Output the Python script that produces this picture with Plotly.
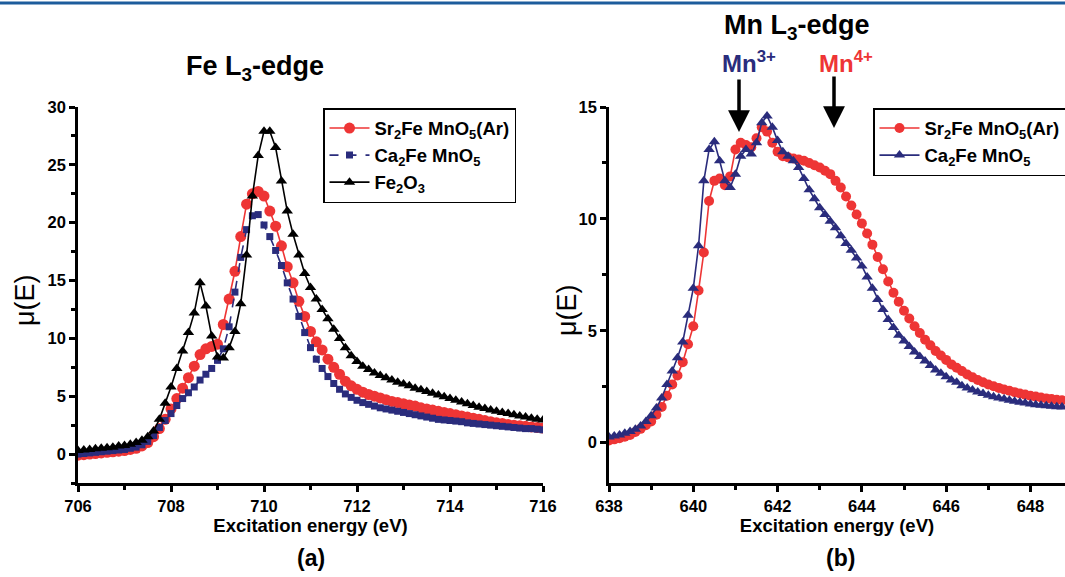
import numpy as np
import plotly.graph_objects as go
from plotly.subplots import make_subplots

# ---------------- Fe L3-edge (panel a) ----------------
fe_energy = np.round(np.arange(706.0, 716.0001, 0.125), 3)

fe_sr2femno5 = [
    -0.1, -0.05, 0.0, 0.05, 0.1, 0.15, 0.2, 0.25, 0.3, 0.4, 0.5, 0.7, 1.0, 1.5, 2.2, 3.0,
    3.9, 4.8, 5.7, 6.6, 7.6, 8.6, 9.1, 9.3, 9.5, 11.2, 13.4, 15.8, 18.8, 21.6, 22.5, 22.7,
    22.3, 21.0, 19.7, 18.0, 16.2, 14.8, 13.2, 11.9, 10.6, 9.7, 9.0, 8.2, 7.5, 6.9, 6.3, 5.9,
    5.6, 5.35, 5.15, 5.0, 4.85, 4.7, 4.55, 4.45, 4.35, 4.25, 4.15, 4.0, 3.9, 3.8, 3.7, 3.6,
    3.5, 3.4, 3.3, 3.2, 3.1, 3.0, 2.9, 2.8, 2.7, 2.65, 2.55, 2.5, 2.45, 2.4, 2.35, 2.3, 2.25,
]

fe_ca2femno5 = [
    0.0, 0.05, 0.1, 0.15, 0.2, 0.25, 0.3, 0.35, 0.4, 0.5, 0.6, 0.8, 1.1, 1.6, 2.3, 2.9,
    3.5, 4.2, 4.8, 5.3, 5.8, 6.4, 6.9, 7.4, 8.1, 9.1, 11.0, 14.0, 17.0, 19.4, 20.6, 20.7,
    19.8, 18.8, 17.6, 16.3, 14.8, 13.4, 11.9, 10.5, 9.2, 8.2, 7.4, 6.7, 6.1, 5.6, 5.2, 4.9,
    4.65, 4.45, 4.3, 4.15, 4.0, 3.9, 3.8, 3.7, 3.6, 3.5, 3.4, 3.3, 3.2, 3.1, 3.0, 2.95,
    2.9, 2.85, 2.8, 2.7, 2.65, 2.6, 2.55, 2.5, 2.45, 2.4, 2.35, 2.3, 2.25, 2.2, 2.2, 2.15, 2.1,
]

fe_fe2o3 = [
    0.3, 0.35, 0.4, 0.45, 0.5, 0.55, 0.6, 0.7, 0.75, 0.85, 1.0, 1.2, 1.5, 2.0, 3.0, 4.4,
    5.8, 7.4, 8.9, 10.5, 12.2, 14.8, 12.8, 10.2, 8.4, 8.3, 9.2, 10.6, 13.0, 17.2, 22.3, 25.8,
    27.9, 27.9, 26.5, 23.6, 21.0, 19.0, 17.2, 15.6, 14.4, 13.4, 12.5, 11.7, 10.8, 10.0, 9.2, 8.5,
    8.0, 7.6, 7.3, 7.0, 6.8, 6.6, 6.4, 6.2, 6.05, 5.9, 5.7, 5.55, 5.4, 5.25, 5.1, 4.95,
    4.8, 4.65, 4.5, 4.35, 4.2, 4.05, 3.95, 3.8, 3.7, 3.6, 3.5, 3.4, 3.3, 3.2, 3.1, 3.0, 2.95,
]

# ---------------- Mn L3-edge (panel b) ----------------
mn_energy = np.round(np.arange(638.0, 648.7501, 0.125), 3)

mn_sr2femno5 = [
    0.1, 0.15, 0.2, 0.27, 0.35, 0.48, 0.62, 0.78, 0.95, 1.25, 1.6, 2.1, 2.6, 3.0, 3.6, 4.4,
    5.2, 6.8, 8.5, 10.8, 11.7, 11.8, 11.5, 11.9, 13.1, 13.4, 13.3, 13.2, 13.6, 14.1, 13.9, 13.4,
    13.0, 12.8, 12.75, 12.7, 12.65, 12.6, 12.5, 12.4, 12.3, 12.15, 12.0, 11.7, 11.4, 11.0, 10.6, 10.2,
    9.8, 9.35, 8.85, 8.3, 7.75, 7.2, 6.7, 6.3, 5.9, 5.55, 5.2, 4.9, 4.6, 4.35, 4.1, 3.9,
    3.7, 3.5, 3.35, 3.2, 3.05, 2.92, 2.8, 2.7, 2.6, 2.52, 2.45, 2.38, 2.32, 2.26, 2.2, 2.15,
    2.1, 2.06, 2.02, 1.98, 1.95, 1.92, 1.9,
]

mn_ca2femno5 = [
    0.25, 0.3, 0.35, 0.42, 0.5, 0.6, 0.75, 0.95, 1.2, 1.55, 2.0, 2.6, 3.2, 3.8, 4.5, 5.7,
    6.9, 8.8, 11.7, 13.1, 13.45, 12.6, 11.7, 11.4, 12.0, 12.8, 13.1, 12.9, 13.4, 14.3, 14.6, 14.1,
    13.5, 13.0, 12.8, 12.6, 12.3, 11.8, 11.3, 10.9, 10.5, 10.2, 9.9, 9.6, 9.25, 8.9, 8.6, 8.25,
    7.9, 7.4, 6.9, 6.4, 5.95, 5.5, 5.15, 4.8, 4.55, 4.3, 4.05, 3.85, 3.65, 3.45, 3.25, 3.1,
    2.95, 2.8, 2.7, 2.55, 2.45, 2.35, 2.27, 2.2, 2.12, 2.05, 2.0, 1.95, 1.9, 1.85, 1.81, 1.77,
    1.73, 1.7, 1.67, 1.65, 1.63, 1.61, 1.6,
]

fe_ticks = [706, 708, 710, 712, 714, 716]
fe_yticks = [0, 5, 10, 15, 20, 25, 30]
mn_ticks = [638, 640, 642, 644, 646, 648]
mn_yticks = [0, 5, 10, 15]

RED = "#EE3535"
NAVY = "#2A2C7C"
BLACK = "#000000"
FONT = "Liberation Sans, Arial, sans-serif"

W, H = 1065, 577


def px_x(p):
    return p / W


def px_y(p):
    return 1 - p / H


fig = make_subplots(rows=1, cols=2)

# panel a traces
fig.add_trace(go.Scatter(
    x=fe_energy, y=fe_sr2femno5, mode="lines+markers",
    name="<b>Sr<sub>2</sub>Fe MnO<sub>5</sub>(Ar)</b>",
    line=dict(color=RED, width=1.6),
    marker=dict(symbol="circle", size=11, color=RED),
    legend="legend",
), row=1, col=1)
fig.add_trace(go.Scatter(
    x=fe_energy, y=fe_ca2femno5, mode="lines+markers",
    name="<b>Ca<sub>2</sub>Fe MnO<sub>5</sub></b>",
    line=dict(color=NAVY, width=1.6, dash="dash"),
    marker=dict(symbol="square", size=7, color=NAVY),
    legend="legend",
), row=1, col=1)
fig.add_trace(go.Scatter(
    x=fe_energy, y=fe_fe2o3, mode="lines+markers",
    name="<b>Fe<sub>2</sub>O<sub>3</sub></b>",
    line=dict(color=BLACK, width=1.6),
    marker=dict(symbol="triangle-up", size=10, color=BLACK),
    legend="legend",
), row=1, col=1)

# panel b traces
fig.add_trace(go.Scatter(
    x=mn_energy, y=mn_sr2femno5, mode="lines+markers",
    name="<b>Sr<sub>2</sub>Fe MnO<sub>5</sub>(Ar)</b>",
    line=dict(color=RED, width=1.6),
    marker=dict(symbol="circle", size=10, color=RED),
    legend="legend2",
), row=1, col=2)
fig.add_trace(go.Scatter(
    x=mn_energy, y=mn_ca2femno5, mode="lines+markers",
    name="<b>Ca<sub>2</sub>Fe MnO<sub>5</sub></b>",
    line=dict(color=NAVY, width=1.6),
    marker=dict(symbol="triangle-up", size=10, color=NAVY),
    legend="legend2",
), row=1, col=2)

axis_common = dict(
    showline=True, linecolor="black", linewidth=2.5,
    ticks="outside", ticklen=6, tickwidth=2.5, tickcolor="black",
    showgrid=False, zeroline=False, mirror=False,
    tickfont=dict(family=FONT, size=16.5, color="black"),
)
minor_x = dict(ticks="outside", ticklen=4, tickwidth=2.5, tickcolor="black", dtick=1, showgrid=False)
minor_y = dict(ticks="outside", ticklen=4, tickwidth=2.5, tickcolor="black", dtick=2.5, showgrid=False)
xtitle = dict(text="<b>Excitation energy (eV)</b>", font=dict(family=FONT, size=18.5, color="black"), standoff=6)

fig.update_xaxes(
    **axis_common, range=[706, 716], tickvals=fe_ticks,
    ticktext=[f"<b>{t}</b>" for t in fe_ticks], minor=minor_x,
    domain=[px_x(78), px_x(543)], title=xtitle, row=1, col=1,
)
fig.update_yaxes(
    **axis_common, range=[-2.5, 30], tickvals=fe_yticks,
    ticktext=[f"<b>{t}</b>" for t in fe_yticks], minor=minor_y,
    domain=[px_y(483), px_y(107)], row=1, col=1,
)
fig.update_xaxes(
    **axis_common, range=[638, 648.82], tickvals=mn_ticks,
    ticktext=[f"<b>{t}</b>" for t in mn_ticks], minor=minor_x,
    domain=[px_x(609), 1.0], title=xtitle, row=1, col=2,
)
fig.update_yaxes(
    **axis_common, range=[-1.8, 15], tickvals=mn_yticks,
    ticktext=[f"<b>{t}</b>" for t in mn_yticks], minor=minor_y,
    domain=[px_y(483), px_y(107)], row=1, col=2,
)

legend_common = dict(
    xanchor="left", yanchor="top",
    bgcolor="white", bordercolor="black", borderwidth=1.5,
    font=dict(family=FONT, size=18.5, color="black"),
    tracegroupgap=0, itemsizing="trace", itemwidth=40,
)


def label(text, x, y, size, color="black", angle=0):
    return dict(text=text, x=px_x(x), y=px_y(y), xref="paper", yref="paper",
                xanchor="center", yanchor="middle",
                showarrow=False, textangle=angle,
                font=dict(family=FONT, size=size, color=color))


def arrow(x, y_tip, length):
    return dict(text="", x=px_x(x), y=px_y(y_tip), xref="paper", yref="paper",
                ax=0, ay=-length, showarrow=True, arrowhead=2, arrowsize=1.25,
                arrowwidth=3.5, arrowcolor="black")


annotations = [
    label("<b>Fe L<sub>3</sub>-edge</b>", 255, 68, 27),
    label("<b>Mn L<sub>3</sub>-edge</b>", 797, 27, 27),
    label("<b>Mn<sup>3+</sup></b>", 749, 62, 24, NAVY),
    label("<b>Mn<sup>4+</sup></b>", 846, 62, 24, RED),
    label("<b>(a)</b>", 311, 558, 23),
    label("<b>(b)</b>", 840, 558, 23),
    label("μ(E)", 25, 300, 27, angle=-90),
    label("μ(E)", 567, 310, 27, angle=-90),
    # arrows pointing at the Mn3+ and Mn4+ features
    arrow(739, 132, 54),
    arrow(834, 128, 53),
]

fig.update_layout(
    width=W, height=H,
    margin=dict(l=0, r=0, t=0, b=0, autoexpand=False),
    paper_bgcolor="white", plot_bgcolor="white",
    font=dict(family=FONT, color="black"),
    legend=dict(**legend_common, x=px_x(323), y=px_y(108)),
    legend2=dict(**legend_common, x=px_x(873), y=px_y(108)),
    annotations=annotations,
    shapes=[dict(type="line", xref="paper", yref="paper", x0=0, x1=1,
                 y0=px_y(3), y1=px_y(3), line=dict(color="#1C5C9C", width=3))],
)

fig.write_html("out.html")
